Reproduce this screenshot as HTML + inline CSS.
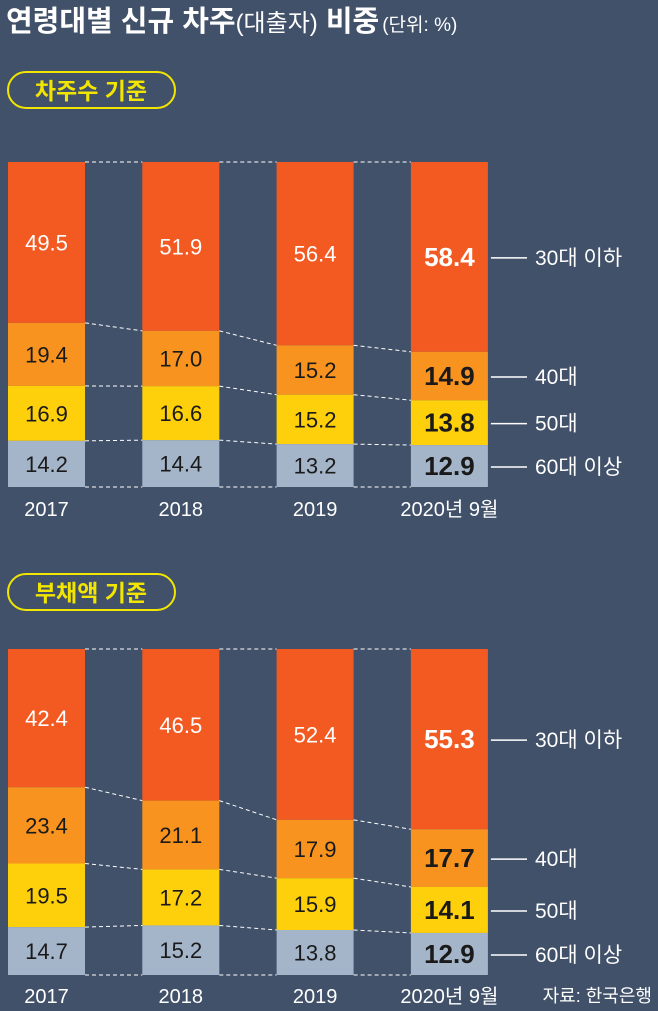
<!DOCTYPE html>
<html><head><meta charset="utf-8">
<style>
html,body{margin:0;padding:0;background:#415169;}
svg{display:block;font-family:"Liberation Sans","Noto Sans CJK KR",sans-serif;}
</style></head>
<body>
<svg id="chart" width="658" height="1011" viewBox="0 0 658 1011">
<rect x="0" y="0" width="658" height="1011" fill="#415169"/>
<text x="6" y="31" font-size="29" font-weight="bold" fill="#fff">연령대별 신규 차주<tspan font-size="24" font-weight="normal">(대출자)</tspan> 비중<tspan font-size="19" font-weight="normal" dx="3">(단위: %)</tspan></text>
<g id="g1"></g>
<g id="g2"></g>
<text x="652" y="1002" font-size="18" fill="#fff" text-anchor="end">자료: 한국은행</text>
</svg>
<script>
const categories = ["2017","2018","2019","2020년 9월"];
const segmentNames = ["30대 이하","40대","50대","60대 이상"];
// values per year, order: 30대 이하, 40대, 50대, 60대 이상
const borrowersU30 = [49.5,51.9,56.4,58.4];
const borrowers40 = [19.4,17.0,15.2,14.9];
const borrowers50 = [16.9,16.6,15.2,13.8];
const borrowers60 = [14.2,14.4,13.2,12.9];
const debtU30 = [42.4,46.5,52.4,55.3];
const debt40 = [23.4,21.1,17.9,17.7];
const debt50 = [19.5,17.2,15.9,14.1];
const debt60 = [14.7,15.2,13.8,12.9];
const panelTitles = ["차주수 기준","부채액 기준"];

const NS="http://www.w3.org/2000/svg";
const colors=["#f25a22","#f7931e","#fecf0b","#a4b5c9"];
function mk(parent,tag,attrs,text){const e=document.createElementNS(NS,tag);for(const k in attrs)e.setAttribute(k,attrs[k]);if(text!==undefined)e.textContent=text;parent.appendChild(e);return e;}

function drawPanel(gid,title,series,top,bottom,pillY,catY){
  const g=document.getElementById(gid);
  const pill=mk(g,"rect",{x:8,y:pillY,width:167,height:36,rx:18,fill:"none",stroke:"#f2e500","stroke-width":2});
  
  
  const pt=mk(g,"text",{x:91,y:pillY+27,"font-size":23,"font-weight":"bold",fill:"#f2e500","text-anchor":"middle"},title);
  
  
  const H=bottom-top;
  const xs=i=>8+i*134.3, w=77;
  const yScale=v=>v/100*H;
  const bounds=[];
  categories.forEach((c,i)=>{
    const total=series.reduce((s,a)=>s+a[i],0);
    let y=top; const b=[top];
    series.forEach((arr,k)=>{
      const h=yScale(arr[i]/total*100);
      const r=mk(g,"rect",{x:xs(i),y:y,width:w,height:h,fill:colors[k]});
      
      
      const last=i===categories.length-1;
      const t=mk(g,"text",{x:xs(i)+w/2,y:y+h/2+(last?9:8),"font-size":last?26:22,"font-weight":last?"bold":"normal",fill:k===0?"#fff":"#1a1a1a","text-anchor":"middle"},arr[i].toFixed(1));
      
      
      if(last){
        const ly=y+h/2+1;
        const l=mk(g,"line",{x1:xs(i)+w+3,x2:527,y1:ly,y2:ly,stroke:"#fff","stroke-width":1.5});
        
        
        const lt=mk(g,"text",{x:535,y:ly+7,"font-size":21,fill:"#fff"},segmentNames[k]);
        
        
      }
      y+=h; b.push(y);
    });
    bounds.push(b);
    const ct=mk(g,"text",{x:xs(i)+w/2,y:catY,"font-size":20,fill:"#fff","text-anchor":"middle"},c);
    
    
  });
  for(let i=0;i<categories.length-1;i++){
    bounds[i].forEach((yb,k)=>{
      const d=mk(g,"line",{x1:xs(i)+w,x2:xs(i+1),y1:yb,y2:bounds[i+1][k],stroke:"#fff","stroke-width":1,"stroke-dasharray":"4,3"});
      
      
    });
  }
}
drawPanel("g1",panelTitles[0],[borrowersU30,borrowers40,borrowers50,borrowers60],162,487,72,516);
drawPanel("g2",panelTitles[1],[debtU30,debt40,debt50,debt60],649,975,574,1003);
</script>
</body></html>
